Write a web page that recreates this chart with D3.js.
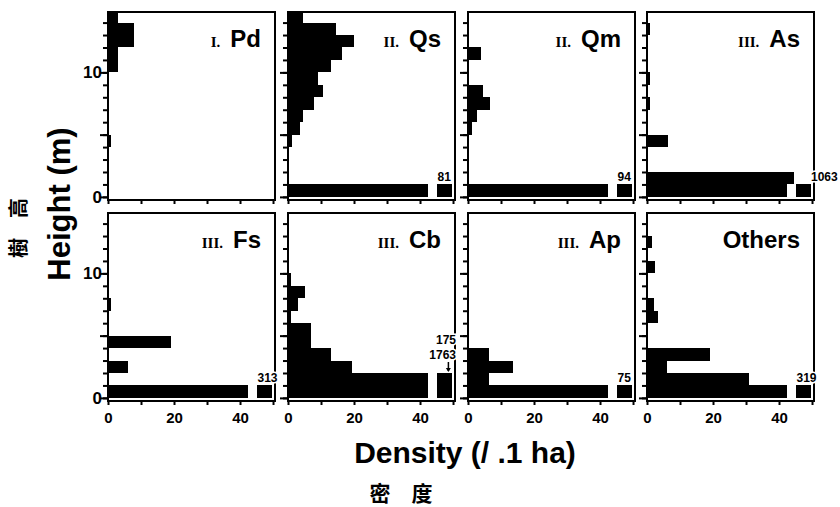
<!DOCTYPE html>
<html>
<head>
<meta charset="utf-8">
<script src="https://cdn.jsdelivr.net/npm/d3@7"></script>
<style>
  body { margin: 0; background: #fff; }
  svg { display: block; }
</style>
</head>
<body>
<div id="chart"></div>
<script>
// height classes 0-1 m, 1-2 m ... 14-15 m
const heightClasses = d3.range(15);

const species = ["Pd", "Qs", "Qm", "As", "Fs", "Cb", "Ap", "Others"];
const layers = ["I.", "II.", "II.", "III.", "III.", "III.", "III.", ""];

// density (/ .1 ha) per height class, from the ground up
const pdDensity = [0, 0, 0, 0, 1, 0, 0, 0, 0, 0, 3, 3, 8, 8, 3];
const qsDensity = [81, 0, 0, 0, 1.3, 3.5, 4.5, 8, 10.5, 9, 13, 16.5, 20, 14.5, 4.5];
const qmDensity = [94, 0, 0, 0, 0, 1.2, 2.7, 6.7, 4.5, 0, 0, 4, 0, 0, 0];
const asDensity = [1063, 44.4, 0, 0, 6.3, 0, 0, 1, 0, 1, 0, 0, 0, 1, 0];
const fsDensity = [313, 0, 6, 0, 19, 0, 0, 1, 0, 0, 0, 0, 0, 0, 0];
const cbDensity = [1763, 175, 19.3, 13, 7, 7, 1, 3, 5.3, 1, 0, 0, 0, 0, 0];
const apDensity = [75, 6.5, 13.5, 6.5, 0, 0, 0, 0, 0, 0, 0, 0, 0, 0, 0];
const othersDensity = [319, 31, 6, 19, 0, 0, 3.2, 2.2, 0, 0, 2.5, 0, 1.5, 0, 0];

const series = [pdDensity, qsDensity, qmDensity, asDensity, fsDensity, cbDensity, apDensity, othersDensity];

const xTicks = [0, 10, 20, 30, 40, 50];
const xTickLabels = [0, 20, 40];
const yTicks = d3.range(15);
const yMajorTicks = [0, 5, 10];
const yTickLabels = [0, 10];

drawChart();

function drawChart() {
    const width = 840;
    const height = 507;
    const colX = [108, 288, 468, 647];
    const rowTop = [12, 213];
    const panelW = 167;
    const panelH = 188;
    const yTop = 14.85;
    const breakAt = 45;     // bars longer than this are cut and the count is written
    const cutEnd = 42.3;
    const stub = [45, 49.6];

    const svg = d3.select("#chart")
        .append("svg")
        .attr("width", width)
        .attr("height", height)
        .style("font-family", "'Liberation Sans', Arial, sans-serif");

    const x = d3.scaleLinear().domain([0, 50.6]).range([0, panelW]);
    const y = d3.scaleLinear().domain([-0.25, yTop]).range([panelH, 0]);

    series.forEach((values, k) => {
        const r = Math.floor(k / 4);
        const c = k % 4;
        const g = svg.append("g")
            .attr("transform", `translate(${colX[c]},${rowTop[r]})`);

        const bins = heightClasses.map(i => ({ i, v: values[i] })).filter(d => d.v > 0);
        const top = d => y(Math.min(d.i + 1, yTop));

        g.selectAll(".bar")
            .data(bins)
            .join("rect")
            .attr("class", "bar")
            .attr("x", 0)
            .attr("y", top)
            .attr("width", d => x(d.v > breakAt ? cutEnd : d.v))
            .attr("height", d => y(d.i) - top(d))
            .attr("fill", "#000")
            .attr("shape-rendering", "crispEdges");

        const cut = bins.filter(d => d.v > breakAt);
        g.selectAll(".stub")
            .data(cut)
            .join("rect")
            .attr("class", "stub")
            .attr("x", x(stub[0]))
            .attr("y", top)
            .attr("width", x(stub[1]) - x(stub[0]))
            .attr("height", d => y(d.i) - top(d))
            .attr("fill", "#000")
            .attr("shape-rendering", "crispEdges");

        // frame
        g.append("rect")
            .attr("width", panelW)
            .attr("height", panelH)
            .attr("fill", "none")
            .attr("stroke", "#000")
            .attr("stroke-width", 2);

        const xAxis = d3.axisBottom(x)
            .tickValues(xTicks)
            .tickSize(4)
            .tickPadding(7)
            .tickFormat(d => (r === 1 && xTickLabels.includes(d)) ? d : "");
        g.append("g")
            .attr("transform", `translate(0,${panelH})`)
            .call(xAxis)
            .call(a => a.select(".domain").remove())
            .call(a => a.selectAll("line").attr("stroke-width", 2))
            .call(a => a.selectAll("text")
                .attr("font-size", 15).attr("font-weight", "bold")
                .attr("font-family", "'Liberation Sans', Arial, sans-serif"));

        g.append("g")
            .call(d3.axisLeft(y).tickValues(yTicks).tickSize(5).tickFormat(""))
            .call(a => a.select(".domain").remove())
            .call(a => a.selectAll("line").attr("stroke-width", 2));

        g.append("g")
            .call(d3.axisLeft(y).tickValues(yMajorTicks).tickSize(8).tickPadding(-2)
                .tickFormat(d => (c === 0 && yTickLabels.includes(d)) ? d : ""))
            .call(a => a.select(".domain").remove())
            .call(a => a.selectAll("line").attr("stroke-width", 2))
            .call(a => a.selectAll("text")
                .attr("font-size", 17).attr("font-weight", "bold")
                .attr("font-family", "'Liberation Sans', Arial, sans-serif"));

        // counts of the cut bars
        const lbl = (sel) => sel
            .attr("font-size", 12)
            .attr("font-weight", "bold")
            .attr("fill", "#000")
            .attr("stroke", "#fff")
            .attr("stroke-width", 3)
            .attr("paint-order", "stroke");

        if (cut.length === 1) {
            const d = cut[0];
            const crowded = (values[d.i + 1] || 0) > cutEnd;
            g.append("text")
                .attr("x", crowded ? x(50) - 1 : x(stub[0]) + 1)
                .attr("y", top(d) - 3)
                .text(d3.format("d")(d.v))
                .call(lbl);
        } else if (cut.length > 1) {
            const ceil = d3.min(cut, top);
            cut.forEach((d, j) => {
                g.append("text")
                    .attr("x", panelW + 1)
                    .attr("y", ceil - 14 - j * 15)
                    .attr("text-anchor", "end")
                    .text(d3.format("d")(d.v))
                    .call(lbl);
            });
            const ax = x(48.6);
            g.append("path")
                .attr("d", `M${ax},${ceil - 11}V${ceil - 2}`)
                .attr("stroke", "#000")
                .attr("stroke-width", 1.5);
            g.append("path")
                .attr("d", `M${ax - 2.5},${ceil - 5}L${ax + 2.5},${ceil - 5}L${ax},${ceil - 1}Z`)
                .attr("fill", "#000");
        }

        // panel title
        const t = g.append("text")
            .attr("x", panelW - 14)
            .attr("y", 35)
            .attr("text-anchor", "end")
            .attr("font-weight", "bold");
        if (layers[k]) {
            t.append("tspan")
                .attr("font-family", "'Liberation Serif', serif")
                .attr("font-size", 15)
                .text(layers[k]);
        }
        t.append("tspan")
            .attr("dx", layers[k] ? 10 : 0)
            .attr("font-size", 24)
            .text(species[k]);
    });

    // axis titles
    svg.append("text")
        .attr("x", 465)
        .attr("y", 463)
        .attr("text-anchor", "middle")
        .attr("font-size", 30)
        .attr("font-weight", "bold")
        .text("Density (/ .1 ha)");

    svg.append("text")
        .attr("x", 401)
        .attr("y", 492)
        .attr("text-anchor", "middle")
        .attr("dominant-baseline", "central")
        .attr("font-family", "'Noto Sans CJK TC', sans-serif")
        .attr("font-size", 21)
        .attr("font-weight", "bold")
        .text("密\u3000度");

    svg.append("text")
        .attr("transform", "translate(70,204) rotate(-90)")
        .attr("text-anchor", "middle")
        .attr("font-size", 31)
        .attr("font-weight", "bold")
        .text("Height (m)");

    svg.append("text")
        .attr("transform", "translate(17,228) rotate(-90)")
        .attr("text-anchor", "middle")
        .attr("dominant-baseline", "central")
        .attr("font-family", "'Noto Sans CJK TC', sans-serif")
        .attr("font-size", 20)
        .attr("font-weight", "bold")
        .text("樹\u3000高");
}
</script>
</body>
</html>
